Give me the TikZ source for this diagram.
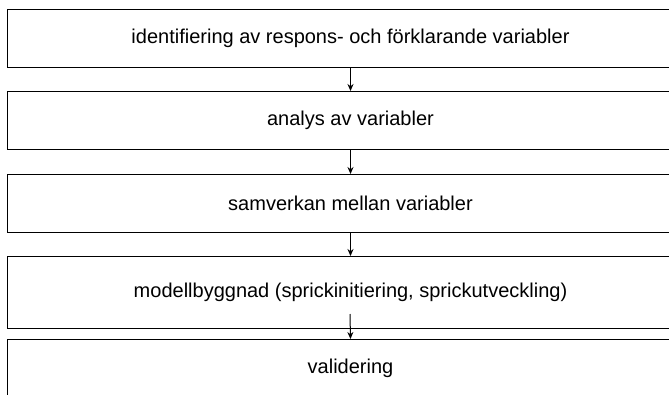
\documentclass[tikz,border=0pt]{standalone}
\usepackage{fontspec}
\setmainfont{Liberation Sans}
\usetikzlibrary{arrows.meta}
\begin{document}
\begin{tikzpicture}[x=1pt,y=-1pt,
  stepbox/.style={draw=black, line width=1pt, anchor=north west, minimum width=686pt, inner sep=0pt, font=\fontsize{20}{24}\selectfont},
  flow/.style={draw=black, line width=1pt, -{Stealth[length=7pt,width=6pt]}}]
\useasboundingbox (0,0) rectangle (669,394);
\clip (0,0) rectangle (669,394);
\node[stepbox, minimum height=58pt] (b1) at (7,9) {identifiering av respons- och förklarande variabler};
\node[stepbox, minimum height=58pt] (b2) at (7,91) {analys av variabler};
\node[stepbox, minimum height=58pt] (b3) at (7,174) {samverkan mellan variabler};
\node[stepbox, minimum height=72pt] (b4) at (7,256) {modellbyggnad (sprickinitiering, sprickutveckling)};
\node[stepbox, minimum height=58pt] (b5) at (7,339) {validering};
\coordinate (s4) at (350,314);
\draw[flow] (b1.south) -- (b2.north);
\draw[flow] (b2.south) -- (b3.north);
\draw[flow] (b3.south) -- (b4.north);
\draw[flow] (s4) -- (b5.north);
\end{tikzpicture}
\end{document}
